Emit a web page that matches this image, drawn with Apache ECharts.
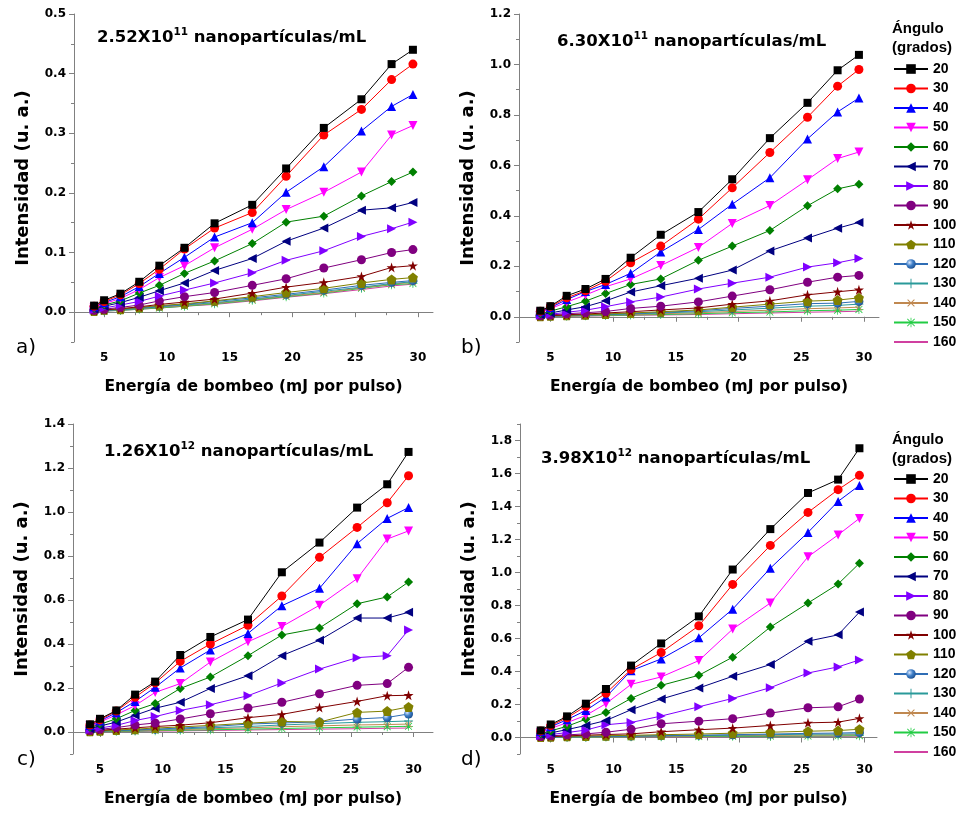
<!DOCTYPE html>
<html lang="es">
<head>
<meta charset="UTF-8">
<title>Intensidad vs energía de bombeo</title>
<script src="https://cdn.jsdelivr.net/npm/echarts@6/dist/echarts.min.js"></script>
<style>
  html, body { margin: 0; padding: 0; background: #fff; }
  #chart { width: 961px; height: 816px; }
</style>
</head>
<body>
<div id="chart"></div>
<script>
// energía de bombeo (mJ por pulso), igual para los 4 paneles
var energia = [4.2, 5.0, 6.3, 7.8, 9.4, 11.4, 13.8, 16.8, 19.5, 22.5, 25.5, 27.9, 29.6];
var angulos = ['20', '30', '40', '50', '60', '70', '80', '90', '100', '110', '120', '130', '140', '150', '160'];

// a) 2.52X10^11 nanopartículas/mL  (una fila por ángulo)
var datosA = [
  [0.011, 0.020, 0.031, 0.051, 0.078, 0.108, 0.149, 0.180, 0.241, 0.309, 0.357, 0.416, 0.440],
  [0.010, 0.018, 0.029, 0.048, 0.072, 0.106, 0.141, 0.167, 0.228, 0.297, 0.340, 0.390, 0.416],
  [0.009, 0.016, 0.026, 0.043, 0.065, 0.092, 0.126, 0.150, 0.201, 0.244, 0.304, 0.345, 0.365],
  [0.008, 0.014, 0.023, 0.038, 0.058, 0.078, 0.108, 0.139, 0.172, 0.201, 0.235, 0.297, 0.313],
  [0.006, 0.012, 0.019, 0.032, 0.045, 0.065, 0.086, 0.115, 0.151, 0.161, 0.195, 0.219, 0.235],
  [0.005, 0.010, 0.016, 0.025, 0.036, 0.049, 0.070, 0.090, 0.119, 0.141, 0.171, 0.175, 0.184],
  [0.004, 0.007, 0.012, 0.018, 0.027, 0.037, 0.049, 0.066, 0.087, 0.103, 0.127, 0.140, 0.151],
  [0.003, 0.005, 0.008, 0.012, 0.019, 0.026, 0.033, 0.045, 0.056, 0.074, 0.088, 0.100, 0.105],
  [0.003, 0.004, 0.006, 0.009, 0.013, 0.017, 0.022, 0.032, 0.042, 0.050, 0.060, 0.075, 0.078],
  [0.002, 0.004, 0.005, 0.008, 0.011, 0.014, 0.019, 0.026, 0.033, 0.040, 0.049, 0.055, 0.058],
  [0.002, 0.003, 0.005, 0.007, 0.010, 0.013, 0.018, 0.024, 0.030, 0.037, 0.045, 0.050, 0.053],
  [0.002, 0.003, 0.004, 0.006, 0.009, 0.012, 0.016, 0.022, 0.028, 0.035, 0.042, 0.048, 0.051],
  [0.001, 0.002, 0.004, 0.006, 0.008, 0.011, 0.015, 0.021, 0.027, 0.033, 0.041, 0.047, 0.050],
  [0.001, 0.002, 0.003, 0.005, 0.007, 0.010, 0.014, 0.020, 0.026, 0.032, 0.040, 0.046, 0.048],
  [0.001, 0.002, 0.003, 0.005, 0.007, 0.010, 0.013, 0.019, 0.025, 0.031, 0.038, 0.044, 0.047]
];

// b) 6.30X10^11 nanopartículas/mL
var datosB = [
  [0.024, 0.042, 0.083, 0.110, 0.150, 0.234, 0.325, 0.415, 0.545, 0.708, 0.848, 0.977, 1.038],
  [0.022, 0.040, 0.075, 0.103, 0.141, 0.214, 0.280, 0.387, 0.511, 0.651, 0.791, 0.914, 0.980],
  [0.020, 0.036, 0.068, 0.100, 0.128, 0.172, 0.257, 0.346, 0.446, 0.551, 0.705, 0.812, 0.867],
  [0.018, 0.032, 0.058, 0.086, 0.119, 0.150, 0.203, 0.275, 0.370, 0.441, 0.543, 0.627, 0.653],
  [0.012, 0.022, 0.040, 0.062, 0.092, 0.128, 0.150, 0.224, 0.280, 0.342, 0.440, 0.507, 0.525],
  [0.008, 0.015, 0.027, 0.040, 0.063, 0.098, 0.123, 0.153, 0.185, 0.261, 0.312, 0.351, 0.374],
  [0.006, 0.010, 0.018, 0.026, 0.040, 0.059, 0.078, 0.110, 0.133, 0.157, 0.197, 0.214, 0.231],
  [0.004, 0.007, 0.012, 0.016, 0.021, 0.033, 0.042, 0.059, 0.082, 0.107, 0.137, 0.157, 0.164],
  [0.003, 0.005, 0.008, 0.011, 0.015, 0.020, 0.027, 0.035, 0.050, 0.063, 0.087, 0.099, 0.107],
  [0.002, 0.004, 0.006, 0.008, 0.011, 0.015, 0.020, 0.027, 0.038, 0.050, 0.062, 0.066, 0.075],
  [0.002, 0.003, 0.005, 0.007, 0.010, 0.013, 0.017, 0.024, 0.033, 0.042, 0.052, 0.054, 0.061],
  [0.002, 0.003, 0.004, 0.006, 0.008, 0.011, 0.015, 0.020, 0.027, 0.034, 0.042, 0.045, 0.050],
  [0.001, 0.002, 0.003, 0.005, 0.007, 0.009, 0.012, 0.016, 0.021, 0.026, 0.032, 0.035, 0.038],
  [0.001, 0.002, 0.003, 0.004, 0.005, 0.007, 0.009, 0.012, 0.016, 0.019, 0.024, 0.026, 0.029],
  [0.001, 0.001, 0.002, 0.003, 0.004, 0.006, 0.007, 0.009, 0.012, 0.015, 0.018, 0.020, 0.022]
];

// c) 1.26X10^12 nanopartículas/mL
var datosC = [
  [0.035, 0.060, 0.098, 0.170, 0.229, 0.350, 0.432, 0.511, 0.726, 0.861, 1.020, 1.126, 1.273],
  [0.032, 0.055, 0.095, 0.158, 0.223, 0.321, 0.400, 0.485, 0.618, 0.794, 0.930, 1.042, 1.165],
  [0.030, 0.050, 0.088, 0.139, 0.203, 0.291, 0.373, 0.448, 0.574, 0.653, 0.856, 0.971, 1.020],
  [0.027, 0.045, 0.078, 0.120, 0.180, 0.220, 0.318, 0.410, 0.479, 0.576, 0.697, 0.877, 0.914],
  [0.020, 0.035, 0.060, 0.098, 0.129, 0.198, 0.250, 0.347, 0.441, 0.473, 0.583, 0.614, 0.682],
  [0.015, 0.027, 0.045, 0.076, 0.108, 0.135, 0.198, 0.256, 0.347, 0.417, 0.518, 0.518, 0.544],
  [0.010, 0.018, 0.030, 0.052, 0.070, 0.098, 0.124, 0.165, 0.223, 0.286, 0.338, 0.347, 0.464],
  [0.007, 0.012, 0.020, 0.032, 0.041, 0.059, 0.083, 0.109, 0.135, 0.174, 0.212, 0.220, 0.294],
  [0.005, 0.008, 0.013, 0.019, 0.025, 0.031, 0.042, 0.065, 0.080, 0.111, 0.139, 0.165, 0.167],
  [0.003, 0.006, 0.009, 0.013, 0.018, 0.023, 0.030, 0.040, 0.048, 0.045, 0.089, 0.095, 0.114],
  [0.003, 0.005, 0.007, 0.010, 0.013, 0.018, 0.024, 0.036, 0.041, 0.046, 0.059, 0.066, 0.082],
  [0.002, 0.004, 0.006, 0.008, 0.011, 0.014, 0.019, 0.025, 0.032, 0.038, 0.044, 0.047, 0.050],
  [0.002, 0.003, 0.005, 0.006, 0.008, 0.011, 0.015, 0.019, 0.024, 0.028, 0.032, 0.034, 0.036],
  [0.001, 0.002, 0.003, 0.004, 0.006, 0.008, 0.010, 0.013, 0.016, 0.019, 0.022, 0.024, 0.026],
  [0.001, 0.002, 0.002, 0.003, 0.004, 0.005, 0.007, 0.009, 0.011, 0.013, 0.015, 0.017, 0.018]
];

// d) 3.98X10^12 nanopartículas/mL
var datosD = [
  [0.043, 0.079, 0.128, 0.205, 0.294, 0.436, 0.570, 0.734, 1.018, 1.263, 1.482, 1.563, 1.753],
  [0.040, 0.072, 0.120, 0.189, 0.268, 0.412, 0.515, 0.677, 0.928, 1.164, 1.364, 1.502, 1.589],
  [0.036, 0.065, 0.108, 0.164, 0.245, 0.405, 0.476, 0.604, 0.778, 1.026, 1.243, 1.431, 1.528],
  [0.030, 0.055, 0.090, 0.134, 0.205, 0.322, 0.367, 0.466, 0.657, 0.815, 1.095, 1.228, 1.328],
  [0.022, 0.040, 0.068, 0.111, 0.152, 0.237, 0.316, 0.377, 0.487, 0.669, 0.815, 0.930, 1.056],
  [0.016, 0.028, 0.048, 0.073, 0.103, 0.168, 0.233, 0.300, 0.371, 0.442, 0.584, 0.622, 0.760],
  [0.010, 0.018, 0.030, 0.045, 0.077, 0.091, 0.130, 0.186, 0.237, 0.302, 0.391, 0.428, 0.470],
  [0.006, 0.010, 0.016, 0.022, 0.032, 0.050, 0.083, 0.099, 0.114, 0.148, 0.180, 0.186, 0.233],
  [0.004, 0.007, 0.010, 0.014, 0.018, 0.022, 0.035, 0.047, 0.057, 0.073, 0.089, 0.093, 0.116],
  [0.003, 0.005, 0.007, 0.009, 0.011, 0.013, 0.017, 0.021, 0.026, 0.032, 0.038, 0.042, 0.050],
  [0.002, 0.003, 0.004, 0.005, 0.007, 0.009, 0.011, 0.014, 0.017, 0.021, 0.025, 0.027, 0.030],
  [0.002, 0.003, 0.004, 0.005, 0.006, 0.008, 0.010, 0.012, 0.014, 0.017, 0.020, 0.021, 0.022],
  [0.001, 0.002, 0.003, 0.004, 0.005, 0.006, 0.007, 0.009, 0.011, 0.013, 0.015, 0.016, 0.017],
  [0.001, 0.001, 0.002, 0.002, 0.003, 0.004, 0.005, 0.006, 0.007, 0.008, 0.009, 0.010, 0.011],
  [0.001, 0.001, 0.001, 0.002, 0.002, 0.003, 0.003, 0.004, 0.005, 0.006, 0.007, 0.007, 0.008]
];

// marcas de los ejes
var xTicks = [5, 10, 15, 20, 25, 30];
var xMinor = [7.5, 12.5, 17.5, 22.5, 27.5];
var yTicksA = [0, 0.1, 0.2, 0.3, 0.4, 0.5];
var yMinorA = [-0.05, 0.05, 0.15, 0.25, 0.35, 0.45];
var yTicksB = [0, 0.2, 0.4, 0.6, 0.8, 1.0, 1.2];
var yMinorB = [-0.1, 0.1, 0.3, 0.5, 0.7, 0.9, 1.1];
var yTicksC = [0, 0.2, 0.4, 0.6, 0.8, 1.0, 1.2, 1.4];
var yMinorC = [-0.1, 0.1, 0.3, 0.5, 0.7, 0.9, 1.1, 1.3];
var yTicksD = [0, 0.2, 0.4, 0.6, 0.8, 1.0, 1.2, 1.4, 1.6, 1.8];
var yMinorD = [-0.1, 0.1, 0.3, 0.5, 0.7, 0.9, 1.1, 1.3, 1.5, 1.7, 1.9];

// estilos (colores / símbolos tipo Origin)
var colores = ['#000000', '#ff0000', '#0000ff', '#ff00ff', '#008000', '#000080', '#8000ff',
  '#800080', '#800000', '#808000', '#2f6db5', '#2a9a9a', '#c08850', '#22cc44', '#d040a0'];
var estrella = 'path://M50,0L61.2,34.6L97.6,34.6L68.1,55.9L79.4,90.5L50,69L20.6,90.5L31.9,55.9L2.4,34.6L38.8,34.6Z';
var pentagono = 'path://M50,0L97.6,34.6L79.4,90.5L20.6,90.5L2.4,34.6Z';
var cruz = 'path://M4.5,0H5.5V4.5H10V5.5H5.5V10H4.5V5.5H0V4.5H4.5Z';
var asterisco = 'path://M4.6,0H5.4V4.6H10V5.4H5.4V10H4.6V5.4H0V4.6H4.6Z' +
  'M1.5,0.9L5,4.4L8.5,0.9L9.1,1.5L5.6,5L9.1,8.5L8.5,9.1L5,5.6L1.5,9.1L0.9,8.5L4.4,5L0.9,1.5Z';
// raya fina: los "M" de las esquinas mantienen el recuadro cuadrado
var raya = 'path://M0,0M10,10M0,4.6H10V5.4H0Z';
var simbolos = ['rect', 'circle', 'triangle', 'triangle', 'diamond', 'triangle', 'triangle',
  'circle', estrella, pentagono, 'circle', cruz, cruz, asterisco, raya];
var giros = [0, 0, 0, 180, 0, 90, -90, 0, 0, 0, 0, 0, 45, 0, 0];
var tamanos = [8, 9, 9, 9, 9, 9, 9, 9, 10, 10, 9, 9, 9, 9, 9];

var fuenteAncha = 'DejaVu Sans';
var fuenteLeyenda = 'Liberation Sans, Arial';

var paneles = [
  { datos: datosA, x: [2.6, 31.2], y: [-0.05, 0.5], yT: yTicksA, yM: yMinorA,
    grid: { left: 74, top: 14, width: 359, height: 328 } },
  { datos: datosB, x: [2.5, 31.2], y: [-0.1, 1.2], yT: yTicksB, yM: yMinorB,
    grid: { left: 519, top: 14, width: 360, height: 328 } },
  { datos: datosC, x: [2.85, 31.55], y: [-0.1, 1.4], yT: yTicksC, yM: yMinorC,
    grid: { left: 73, top: 424, width: 360, height: 330 } },
  { datos: datosD, x: [2.55, 31.0], y: [-0.1, 1.9], yT: yTicksD, yM: yMinorD,
    grid: { left: 520, top: 424, width: 357, height: 330 } }
];

var ejeColor = '#808080';
var grids = [], xAxes = [], yAxes = [], series = [];

paneles.forEach(function (p, k) {
  grids.push(p.grid);
  xAxes[k] = {
    type: 'value', gridIndex: k, position: 'bottom', min: p.x[0], max: p.x[1],
    name: 'Energía de bombeo (mJ por pulso)', nameLocation: 'middle', nameGap: 37,
    nameTextStyle: { fontFamily: fuenteAncha, fontWeight: 'bold', fontSize: 15.5, color: '#000' },
    axisLine: { show: true, lineStyle: { color: ejeColor, width: 1 } },
    axisTick: { show: true, length: 5, customValues: xTicks, lineStyle: { color: ejeColor } },
    axisLabel: { customValues: xTicks, margin: 10, fontFamily: fuenteAncha, fontWeight: 'bold', fontSize: 12, color: '#000' },
    splitLine: { show: false }
  };
  xAxes[4 + k] = {
    type: 'value', gridIndex: k, position: 'bottom', min: p.x[0], max: p.x[1],
    axisLine: { show: false },
    axisTick: { show: true, length: 3, customValues: xMinor, lineStyle: { color: ejeColor } },
    axisLabel: { show: false }, splitLine: { show: false }
  };
  yAxes[k] = {
    type: 'value', gridIndex: k, position: 'left', min: p.y[0], max: p.y[1],
    name: 'Intensidad (u. a.)', nameLocation: 'middle', nameGap: 42,
    nameTextStyle: { fontFamily: fuenteAncha, fontWeight: 'bold', fontSize: 18, color: '#000' },
    axisLine: { show: true, lineStyle: { color: ejeColor, width: 1 } },
    axisTick: { show: true, length: 5, customValues: p.yT, lineStyle: { color: ejeColor } },
    axisLabel: { customValues: p.yT, margin: 8, fontFamily: fuenteAncha, fontWeight: 'bold', fontSize: 12, color: '#000',
      formatter: function (v) { return v.toFixed(1); } },
    splitLine: { show: false }
  };
  yAxes[4 + k] = {
    type: 'value', gridIndex: k, position: 'left', min: p.y[0], max: p.y[1],
    axisLine: { show: false },
    axisTick: { show: true, length: 3, customValues: p.yM, lineStyle: { color: ejeColor } },
    axisLabel: { show: false }, splitLine: { show: false }
  };

  p.datos.forEach(function (fila, i) {
    var color = colores[i];
    var relleno = color;
    if (i === 10) {
      relleno = { type: 'radial', x: 0.35, y: 0.35, r: 0.7,
        colorStops: [{ offset: 0, color: '#dbe9ff' }, { offset: 0.5, color: '#3f7fc8' }, { offset: 1, color: '#1c4f8f' }] };
    }
    series.push({
      name: angulos[i], type: 'line', xAxisIndex: k, yAxisIndex: k,
      data: energia.map(function (x, j) { return [x, fila[j]]; }),
      symbol: simbolos[i], symbolSize: tamanos[i], symbolRotate: giros[i],
      showSymbol: i !== 14,
      lineStyle: { color: color, width: 1 },
      itemStyle: { color: relleno, borderWidth: 0 },
      emphasis: { disabled: true },
      z: 20 - i
    });
  });
});

function leyenda(top) {
  return {
    orient: 'vertical', left: 893, top: top, padding: 0,
    data: angulos, itemWidth: 34, itemHeight: 12, itemGap: 5.5,
    selectedMode: false,
    textStyle: { fontFamily: fuenteLeyenda, fontWeight: 'bold', fontSize: 14, lineHeight: 14, color: '#000' }
  };
}

function titulo(base, exp, left, top) {
  return {
    text: '{n|' + base + '}{s|' + exp + '}{n| nanopartículas/mL}',
    left: left, top: top, padding: 0,
    textStyle: {
      rich: {
        n: { fontFamily: fuenteAncha, fontWeight: 'bold', fontSize: 16.5, lineHeight: 22, color: '#000' },
        s: { fontFamily: fuenteAncha, fontWeight: 'bold', fontSize: 10.5, lineHeight: 22, verticalAlign: 'top', color: '#000' }
      }
    }
  };
}

function letra(t, left, top) {
  return { text: t, left: left, top: top, padding: 0,
    textStyle: { fontFamily: fuenteAncha, fontWeight: 'normal', fontSize: 20, color: '#000' } };
}

function encabezado(top) {
  return { text: 'Ángulo\n(grados)', left: 892, top: top, padding: 0,
    textStyle: { fontFamily: fuenteLeyenda, fontWeight: 'bold', fontSize: 15, lineHeight: 19.5, color: '#000' } };
}

var chart = echarts.init(document.getElementById('chart'));
chart.setOption({
  animation: false,
  backgroundColor: '#fff',
  title: [
    titulo('2.52X10', '11', 97, 27),
    titulo('6.30X10', '11', 557, 31),
    titulo('1.26X10', '12', 104, 441),
    titulo('3.98X10', '12', 541, 448),
    letra('a)', 16, 338),
    letra('b)', 461, 338),
    letra('c)', 17, 750),
    letra('d)', 461, 750),
    encabezado(19),
    encabezado(430)
  ],
  legend: [leyenda(62), leyenda(472)],
  grid: grids,
  xAxis: xAxes,
  yAxis: yAxes,
  series: series
});
</script>
</body>
</html>
